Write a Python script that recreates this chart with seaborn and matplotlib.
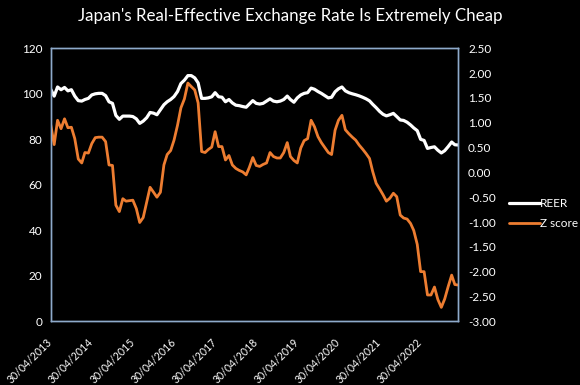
import pandas as pd
import seaborn as sb
import matplotlib.pyplot as plt
import matplotlib.dates as mdates

# monthly data, Apr 2013 - Mar 2023
start = '2013-04-30'
reer = [102.0, 99.0, 103.0, 101.8, 102.8, 101.3, 101.8, 99.0, 97.0, 96.8, 97.5, 98.0,
        99.5, 100.0, 100.2, 100.2, 99.2, 96.5, 95.8, 90.5, 88.8, 90.2, 90.2, 90.2,
        90.0, 89.0, 87.0, 88.0, 89.5, 91.8, 91.5, 90.8, 93.0, 95.2, 96.5, 97.5,
        98.8, 101.0, 104.5, 106.0, 108.0, 108.0, 107.0, 104.8, 98.0, 98.0, 98.2, 98.7,
        100.5, 98.7, 98.5, 96.5, 97.5, 96.0, 95.0, 94.8, 94.4, 94.1, 95.5, 97.0,
        95.8, 95.5, 95.8, 96.8, 97.8, 96.8, 96.5, 96.8, 97.5, 99.0, 97.5, 96.3,
        98.2, 99.5, 100.2, 100.5, 102.5, 102.0, 101.0, 100.2, 99.2, 98.2, 98.5, 100.9,
        102.2, 103.0, 101.3, 100.5, 100.0, 99.6, 99.1, 98.5, 97.8, 96.9, 95.4, 93.9,
        92.3, 91.0, 90.3, 90.8, 91.4, 90.0, 88.5, 88.3, 87.5, 86.3, 85.0, 83.8,
        80.0, 79.5, 76.0, 76.4, 76.7, 75.2, 74.0, 75.0, 76.8, 78.8, 77.6, 77.5]
zscore = [0.96, 0.56, 1.05, 0.88, 1.08, 0.90, 0.91, 0.68, 0.27, 0.19, 0.40, 0.39,
          0.58, 0.70, 0.71, 0.71, 0.62, 0.15, 0.14, -0.66, -0.79, -0.53, -0.58, -0.57,
          -0.56, -0.73, -1.01, -0.91, -0.60, -0.30, -0.40, -0.50, -0.40, 0.15, 0.36, 0.44,
          0.65, 0.95, 1.30, 1.48, 1.80, 1.73, 1.66, 1.40, 0.42, 0.40, 0.46, 0.51,
          0.82, 0.52, 0.52, 0.25, 0.34, 0.15, 0.08, 0.04, 0.01, -0.05, 0.10, 0.30,
          0.14, 0.12, 0.16, 0.19, 0.40, 0.32, 0.29, 0.29, 0.40, 0.60, 0.32, 0.24,
          0.19, 0.49, 0.64, 0.68, 1.05, 0.92, 0.72, 0.60, 0.50, 0.40, 0.36, 0.85,
          1.05, 1.15, 0.86, 0.78, 0.71, 0.65, 0.55, 0.47, 0.38, 0.28, 0.02, -0.22,
          -0.33, -0.45, -0.58, -0.52, -0.42, -0.49, -0.86, -0.92, -0.94, -1.03, -1.17, -1.45,
          -2.00, -2.00, -2.47, -2.47, -2.31, -2.56, -2.72, -2.55, -2.30, -2.07, -2.26, -2.27]

dates = pd.date_range(start, periods=len(reer), freq='ME')
df = pd.DataFrame({'date': dates, 'REER': reer, 'Z score': zscore})

sb.set_style('dark', {'axes.facecolor': 'black', 'figure.facecolor': 'black'})
plt.rcParams['font.family'] = ['Lato', 'DejaVu Sans']

edge = '#8eaacb'
fig = plt.figure(figsize=(5.8, 3.85), dpi=100, facecolor='black')
ax1 = fig.add_axes([0.0874, 0.1655, 0.7028, 0.709])
ax2 = ax1.twinx()

sb.lineplot(data=df, x='date', y='REER', ax=ax1, color='white', lw=2.3, label='REER', legend=False)
sb.lineplot(data=df, x='date', y='Z score', ax=ax2, color='#ed7d31', lw=2.0, label='Z score', legend=False)

ax1.set_ylim(0, 120)
ax1.set_yticks(range(0, 121, 20))
ax2.set_ylim(-3, 2.5)
ax2.set_yticks([-3 + 0.5 * i for i in range(12)])
ax2.set_yticklabels([f'{-3 + 0.5 * i:.2f}' for i in range(12)])
ax1.set_xlim(dates[0], dates[-1])
ticks = pd.date_range(start, periods=10, freq='12ME')
ax1.set_xticks(ticks)
ax1.xaxis.set_major_formatter(mdates.DateFormatter('%d/%m/%Y'))

for ax in (ax1, ax2):
    ax.set_xlabel('')
    ax.set_ylabel('')
    ax.set_facecolor('none')
    ax.grid(False)
    for s in ax.spines.values():
        s.set_visible(True)
        s.set_color(edge)
        s.set_linewidth(1.0)
    ax.tick_params(colors='white', labelsize=8.5, length=0)
ax1.set_facecolor('black')
ax1.tick_params(axis='x', length=4, color=edge, width=1, direction='out', pad=10, labelsize=7.6)
ax1.tick_params(axis='y', pad=6)
ax2.tick_params(axis='y', pad=7)
for lab in ax1.get_xticklabels():
    lab.set_rotation(45)
    lab.set_ha('right')
    lab.set_va('center')
    lab.set_rotation_mode('anchor')

fig.suptitle("Japan's Real-Effective Exchange Rate Is Extremely Cheap",
             color='white', fontsize=12.2, y=0.98)

h1, l1 = ax1.get_legend_handles_labels()
h2, l2 = ax2.get_legend_handles_labels()
fig.legend(h1 + h2, l1 + l2, loc='center left', bbox_to_anchor=(0.86, 0.445),
           frameon=False, fontsize=8.5, labelcolor='white', handlelength=2.6,
           handletextpad=0.0, labelspacing=0.8)

fig.savefig('out.png', dpi=100, facecolor='black')
